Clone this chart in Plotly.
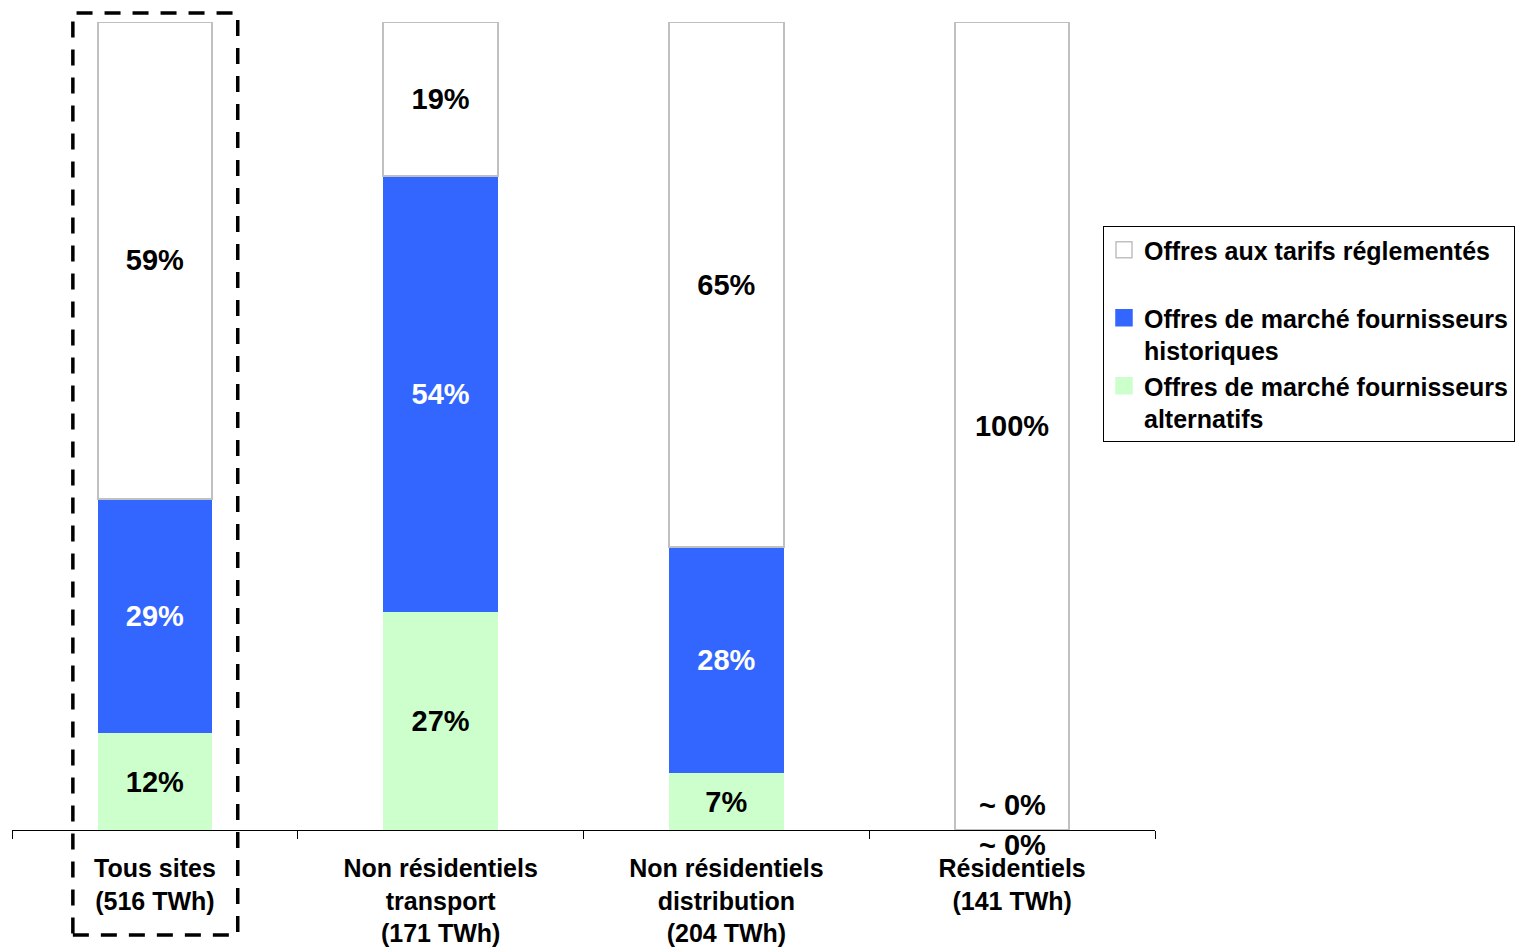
import plotly.graph_objects as go

categories = ["Tous sites<br>(516 TWh)", "Non résidentiels<br>transport<br>(171 TWh)",
              "Non résidentiels<br>distribution<br>(204 TWh)", "Résidentiels<br>(141 TWh)"]
alternatifs = [12, 27, 7, 0]
historiques = [29, 54, 28, 0]
reglementes = [59, 19, 65, 100]
alt_text = ["12%", "27%", "7%", ""]
hist_text = ["29%", "54%", "28%", ""]
regl_text = ["59%", "19%", "65%", "100%"]
zero_label = "~ 0%"
series_names = ["Offres de marché fournisseurs<br>alternatifs",
                "Offres de marché fournisseurs<br>historiques",
                "Offres aux tarifs réglementés<br> "]
series_colors = ["#CCFFCC", "#3366FF", "white"]
series_edges = ["#CCFFCC", "#3366FF", "#C0C0C0"]

FONT = "Liberation Sans, Arial, sans-serif"
LBL = 29

fig = go.Figure()
for vals, txt, col, tcol in [(alternatifs, alt_text, series_colors[0], "black"),
                             (historiques, hist_text, series_colors[1], "white"),
                             (reglementes, regl_text, series_colors[2], "black")]:
    fig.add_trace(go.Bar(x=categories, y=vals, showlegend=False, hoverinfo="skip",
                         marker=dict(color=col, line=dict(width=2 if col == "white" else 0, color="#C0C0C0")),
                         text=txt, textposition="inside", insidetextanchor="middle",
                         textangle=0, constraintext="none",
                         textfont=dict(color=tcol, size=LBL, family=FONT, weight="bold")))

# legend entries
for name, col, edge in zip(series_names, series_colors, series_edges):
    fig.add_trace(go.Scatter(x=[None], y=[None], mode="markers", name=name,
                             marker=dict(symbol="square", size=16, color=col,
                                         line=dict(width=1.5, color=edge))))

fig.add_annotation(x=categories[3], y=0, xref="x", yref="y", text="<b>" + zero_label + "</b>",
                   showarrow=False, yshift=25, font=dict(size=LBL, family=FONT, color="black"))
fig.add_annotation(x=categories[3], y=0, xref="x", yref="y", text="<b>" + zero_label + "</b>",
                   showarrow=False, yshift=-15, font=dict(size=LBL, family=FONT, color="black"))

fig.add_shape(type="rect", xref="x", yref="paper", x0=-0.287, x1=0.29, y0=-0.13, y1=1.011,
              line=dict(color="black", width=3.5, dash="16px,12px"), fillcolor="rgba(0,0,0,0)")

fig.update_layout(
    width=1519, height=948,
    barmode="stack", bargap=0.6,
    margin=dict(l=12, r=364, t=22, b=118, autoexpand=False),
    plot_bgcolor="white", paper_bgcolor="white",
    font=dict(family=FONT, color="black", size=25),
    legend=dict(x=0.9545, y=0.7475, xanchor="left", yanchor="top", xref="paper", yref="paper",
                traceorder="reversed", bordercolor="black", borderwidth=1, valign="top",
                font=dict(size=25, family=FONT, color="black", weight="bold"),
                bgcolor="white", tracegroupgap=3, itemwidth=30),
    showlegend=True,
)
fig.update_xaxes(showline=True, linecolor="black", linewidth=1, ticks="outside", ticklen=8,
                 tickcolor="black", tickson="boundaries", showgrid=False, ticklabelstandoff=16,
                 automargin=False,
                 tickfont=dict(size=25, family=FONT, color="black", weight="bold"))
fig.update_yaxes(range=[0, 100], visible=False, showgrid=False)

fig.write_html("out.html", config={"displayModeBar": False},
               post_script="document.body.style.margin='0';")
